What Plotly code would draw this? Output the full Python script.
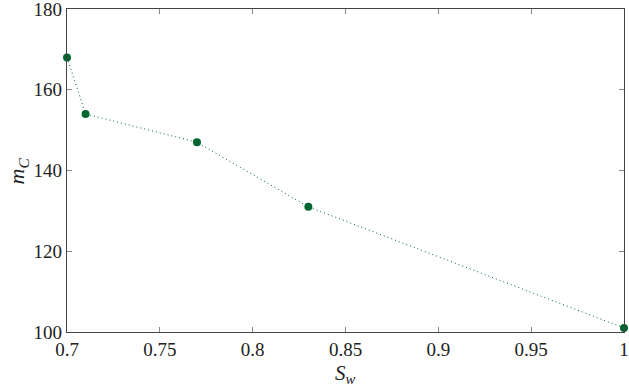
import plotly.graph_objects as go

sw = [0.70, 0.71, 0.77, 0.83, 1.00]
mc = [168, 154, 147, 131, 101]
x_ticks = [0.7, 0.75, 0.8, 0.85, 0.9, 0.95, 1.0]
x_tick_labels = ["0.7", "0.75", "0.8", "0.85", "0.9", "0.95", "1"]
y_ticks = [100, 120, 140, 160, 180]
y_tick_labels = ["100", "120", "140", "160", "180"]

green = "#00662f"
font = "Liberation Serif, Times New Roman, serif"

fig = go.Figure()
fig.add_trace(go.Scatter(
    x=sw, y=mc, mode="lines+markers",
    line=dict(color=green, width=1, dash="1px,3px"),
    marker=dict(color=green, size=8),
    cliponaxis=False,
))

axis_common = dict(
    showgrid=False, zeroline=False, showline=True, linecolor="#444444", linewidth=1.3,
    mirror="ticks", ticks="inside", ticklen=5, tickcolor="#888888", tickwidth=1,
    tickfont=dict(family=font, size=19, color="#222222"), automargin=False,
    ticklabeloverflow="allow",
)
fig.update_xaxes(range=[0.69999, 1.00001], tickmode="array", tickvals=x_ticks, ticktext=x_tick_labels,
                 **axis_common)
fig.update_yaxes(range=[99.999, 180.001], tickmode="array", tickvals=y_ticks, ticktext=y_tick_labels,
                 **axis_common)
fig.add_annotation(text="<i>S</i><sub><i>w</i></sub>", xref="paper", yref="paper", x=0.5, y=-0.13,
                   xanchor="center", yanchor="middle", showarrow=False,
                   font=dict(family=font, size=21, color="#222222"))
fig.add_annotation(text="<i>m</i><sub><i>C</i></sub>", xref="paper", yref="paper", x=-0.088, y=0.5,
                   xanchor="center", yanchor="middle", textangle=-90, showarrow=False,
                   font=dict(family=font, size=22, color="#222222"))
fig.update_layout(
    width=629, height=388,
    margin=dict(l=67, r=5, t=9, b=56),
    plot_bgcolor="white", paper_bgcolor="white",
    showlegend=False,
)
fig.write_html("out.html", config={"displayModeBar": False},
               post_script="document.body.style.margin='0';document.body.style.overflow='hidden';")
